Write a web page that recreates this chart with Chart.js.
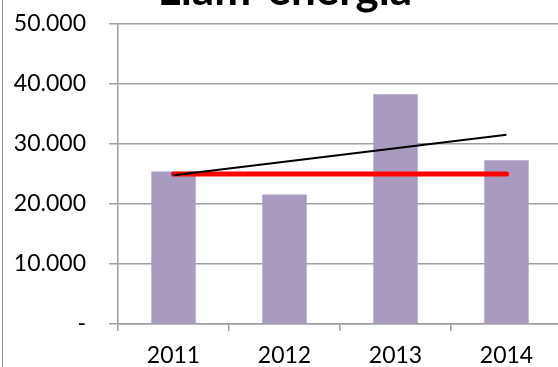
<!DOCTYPE html>
<html>
<head>
<meta charset="utf-8">
<script src="https://cdn.jsdelivr.net/npm/chart.js@4.4.1/dist/chart.umd.min.js"></script>
<style>
    html, body { margin: 0; padding: 0; background: #fff; overflow: hidden; }
    #kehys { position: absolute; left: 0; top: 0; width: 558px; height: 367px; overflow: hidden; }
    #reuna { position: absolute; left: 2px; top: 0; width: 1px; height: 367px; background: #8c8c8c; }
    #kaavio { position: absolute; left: 0; top: 0; }
</style>
</head>
<body>
<div id="kehys">
    <canvas id="kaavio" width="600" height="367"></canvas>
    <div id="reuna"></div>
</div>
<script>
// Vuosittaiset arvot
var vuodet = ['2011', '2012', '2013', '2014'];
var kulutus = [25400, 21600, 38300, 27300];
var tavoite = [25000, 25000, 25000, 25000];
var trendi = [24800, 27050, 29300, 31550];
var otsikko = 'Liam-energia';

var fontti = 'Lato, "Open Sans", sans-serif';

// Tuhaterotin pisteellä, nolla viivana
function muotoile(arvo) {
    if (arvo === 0) return '-';
    return String(arvo).replace(/\B(?=(\d{3})+(?!\d))/g, '.');
}

// Otsikko piirretään itse, koska se on osittain kuvan yläreunan ulkopuolella
var otsikkoPlugin = {
    id: 'otsikko',
    afterDraw: function(chart) {
        var ctx = chart.ctx;
        ctx.save();
        ctx.font = 'bold 44px ' + fontti;
        ctx.fillStyle = '#000';
        ctx.textAlign = 'center';
        ctx.textBaseline = 'alphabetic';
        ctx.fillText(otsikko, 285, 5);
        ctx.restore();
    }
};

new Chart(document.getElementById('kaavio'), {
    type: 'bar',
    data: {
        labels: vuodet,
        datasets: [{
            type: 'line',
            data: trendi,
            borderColor: '#000',
            borderWidth: 2,
            pointRadius: 0,
            tension: 0,
            order: 0
        }, {
            type: 'line',
            data: tavoite,
            borderColor: '#ff0000',
            borderWidth: 5,
            borderCapStyle: 'round',
            pointRadius: 0,
            tension: 0,
            order: 1
        }, {
            data: kulutus,
            backgroundColor: '#a99bbf',
            barPercentage: 0.4,
            categoryPercentage: 1,
            order: 2
        }]
    },
    options: {
        responsive: false,
        animation: false,
        // piirtoalue jatkuu hieman näkyvän alueen oikean reunan yli
        layout: { padding: { top: 24, right: 38, left: 0, bottom: 0 } },
        plugins: {
            legend: { display: false },
            tooltip: { enabled: false }
        },
        scales: {
            x: {
                offset: true,
                grid: {
                    offset: true,
                    drawOnChartArea: false,
                    color: '#a0a0a0',
                    lineWidth: 1.5,
                    tickLength: 7
                },
                border: { color: '#a0a0a0', width: 1.5 },
                ticks: {
                    color: '#000',
                    font: { family: fontti, size: 23 },
                    padding: 11
                },
                afterFit: function(scale) { scale.height = 43; }
            },
            y: {
                min: 0,
                max: 50000,
                grid: {
                    color: '#a0a0a0',
                    lineWidth: 1.5,
                    tickLength: 9
                },
                border: { color: '#a0a0a0', width: 1.5 },
                ticks: {
                    stepSize: 10000,
                    color: '#000',
                    font: { family: fontti, size: 23 },
                    padding: 23,
                    callback: function(v) { return muotoile(v); }
                },
                afterFit: function(scale) {
                    scale.width = 118;
                    // tikkien väli ei saa kasvattaa yläreunaa
                    scale.paddingTop = 0;
                    scale.paddingBottom = 0;
                }
            }
        }
    },
    plugins: [otsikkoPlugin]
});
</script>
</body>
</html>
